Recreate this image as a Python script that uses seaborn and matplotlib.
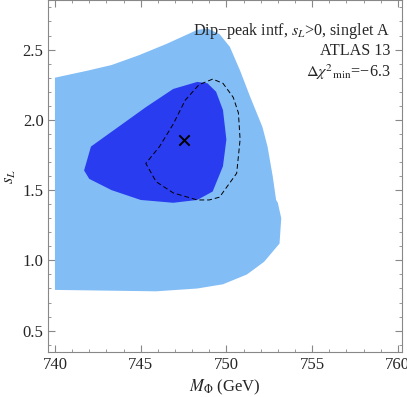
import numpy as np
import matplotlib
matplotlib.use("Agg")
import matplotlib.pyplot as plt
import seaborn as sns
from matplotlib.ticker import MultipleLocator

# outer (light) region boundary, M_Phi in GeV vs s_L
outer_m = [740.0, 741.9, 743.3, 744.9, 746.5, 748.3, 748.9, 749.6, 750.2, 750.8,
           751.4, 752.1, 752.4, 752.7, 752.9, 753.0, 753.2, 753.1, 752.2, 751.2,
           749.8, 748.3, 745.9, 740.0]
outer_s = [2.30, 2.35, 2.39, 2.46, 2.54, 2.64, 2.65, 2.61, 2.52, 2.35,
           2.16, 1.95, 1.81, 1.60, 1.43, 1.41, 1.30, 1.12, 0.99, 0.90,
           0.83, 0.80, 0.78, 0.79]

# inner (dark) region boundary
inner_m = [742.1, 741.7, 742.0, 743.3, 745.0, 746.9, 748.3, 749.2, 749.8, 750.0,
           749.8, 749.4, 748.9, 748.3, 746.9, 745.3, 743.7]
inner_s = [1.81, 1.64, 1.58, 1.50, 1.43, 1.41, 1.43, 1.49, 1.67, 1.86,
           2.07, 2.20, 2.26, 2.27, 2.22, 2.09, 1.95]

# dashed contour
dash_m = [749.2, 748.4, 747.6, 746.9, 746.1, 745.3, 745.9, 746.9, 748.3, 749.0,
          749.6, 750.6, 750.8, 750.7, 750.4, 749.8, 749.2]
dash_s = [2.29, 2.25, 2.14, 1.97, 1.81, 1.69, 1.56, 1.48, 1.43, 1.43,
          1.45, 1.62, 1.86, 2.05, 2.16, 2.26, 2.29]

best_m = [747.5]
best_s = [1.86]

sns.set_style("ticks")
plt.rcParams['font.family'] = ['Liberation Serif', 'DejaVu Serif']
plt.rcParams['mathtext.fontset'] = 'stix'

fig = plt.figure(figsize=(4.07, 3.97), dpi=100)
ax = fig.add_axes([0.119, 0.114, 0.869, 0.885])

ax.fill(outer_m, outer_s, color='#82bdf5', lw=0)
ax.fill(inner_m, inner_s, color='#2a3cf0', lw=0)
sns.lineplot(x=dash_m, y=dash_s, sort=False, estimator=None, ax=ax,
             color='black', lw=0.7, linestyle=(0, (5, 3)))
sns.scatterplot(x=best_m, y=best_s, marker='x', s=55, color='black',
                linewidth=1.4, ax=ax, zorder=5)

ax.set_xlim(739.62, 760.25)
ax.set_ylim(0.35, 2.85)
ax.xaxis.set_major_locator(MultipleLocator(5))
ax.xaxis.set_minor_locator(MultipleLocator(1))
ax.yaxis.set_major_locator(MultipleLocator(0.5))
ax.yaxis.set_minor_locator(MultipleLocator(0.1))
ax.tick_params(which='both', direction='in', top=True, right=True,
               color='#888888', labelsize=12)
ax.tick_params(which='major', length=5)
ax.tick_params(which='minor', length=2.5)
for sp in ax.spines.values():
    sp.set_color('#888888')
    sp.set_linewidth(0.8)

ax.set_xlabel(r'$M_\Phi$ (GeV)', fontsize=12, labelpad=4)
ax.set_ylabel(r'$s_L$', fontsize=12, labelpad=3)

tx = 0.966
fs = 11.6
ax.text(tx, 0.913, 'Dip\u2212peak intf, $s_L$>0, singlet A', transform=ax.transAxes,
        ha='right', va='center', fontsize=fs)
ax.text(tx, 0.857, 'ATLAS 13', transform=ax.transAxes,
        ha='right', va='center', fontsize=fs)
ax.text(tx, 0.795, r'$\Delta\chi^2{}_{\rm min}$=' + '\u22126.3',
        transform=ax.transAxes, ha='right', va='center', fontsize=fs)

fig.savefig('out.png', dpi=100)
